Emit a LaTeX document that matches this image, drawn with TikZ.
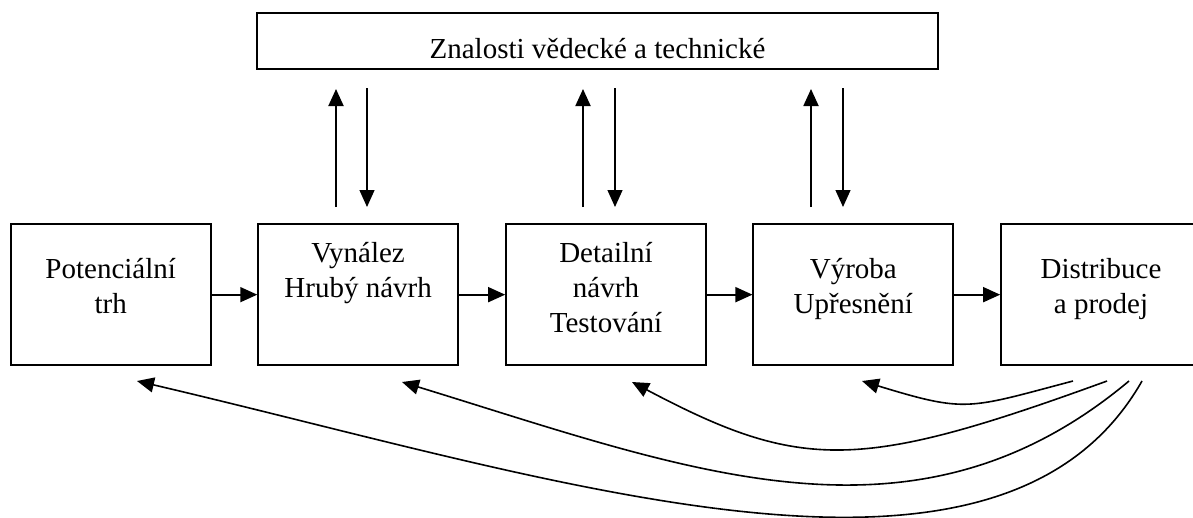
\documentclass[tikz,border=0pt]{standalone}
\usepackage{fontspec}
\setmainfont{Liberation Serif}
\usetikzlibrary{arrows.meta}

\newcommand{\lines}[1]{\begin{tabular}[t]{@{}c@{}}#1\end{tabular}}

\begin{document}
\begin{tikzpicture}[x=1pt, y=-1pt,
  every node/.style={font=\fontsize{29}{35}\selectfont},
  stage/.style={draw, line width=1.7pt, inner sep=0pt, minimum width=200pt},
  textlow/.style={text height=53.7pt, text depth=87pt},
  texthigh/.style={text height=37.7pt, text depth=103pt},
  tip/.style={-{Triangle[length=17pt, width=15pt]}},
  flow/.style={tip, line width=1.7pt},
  upflow/.style={tip, line width=1.9pt},
  downflow/.style={tip, line width=1.3pt},
  back/.style={tip, line width=1.6pt}
]
\useasboundingbox (0,0) rectangle (1193,517);

% knowledge base on top
\node[stage, minimum width=680.4pt, text height=44.7pt, text depth=11pt]
  (kn) at (597.5,41.15) {Znalosti vědecké a technické};

% chain of stages
\node[stage, textlow]  (b1) at (110.7,294.65) {\lines{Potenciální\\trh}};
\node[stage, texthigh] (b2) at (358.1,294.65) {\lines{Vynález\\Hrubý návrh}};
\node[stage, texthigh] (b3) at (606,294.65)   {\lines{Detailní\\návrh\\Testování}};
\node[stage, textlow]  (b4) at (853.3,294.65) {\lines{Výroba\\Upřesnění}};
\node[stage, textlow]  (b5) at (1101,294.65)  {\lines{Distribuce\\a prodej}};

\draw[flow] (b1) -- (b2);
\draw[flow] (b2) -- (b3);
\draw[flow] (b3) -- (b4);
\draw[flow] (b4) -- (b5);

% exchange with the knowledge base
\coordinate (u1b) at (336,207);   \coordinate (u1t) at (336,89);
\coordinate (d1t) at (367,88);    \coordinate (d1b) at (367,207);
\coordinate (u2b) at (583,207);   \coordinate (u2t) at (583,89);
\coordinate (d2t) at (615,88);    \coordinate (d2b) at (615,207);
\coordinate (u3b) at (811,207);   \coordinate (u3t) at (811,89);
\coordinate (d3t) at (843,88);    \coordinate (d3b) at (843,207);

\draw[upflow]   (u1b) -- (u1t);
\draw[downflow] (d1t) -- (d1b);
\draw[upflow]   (u2b) -- (u2t);
\draw[downflow] (d2t) -- (d2b);
\draw[upflow]   (u3b) -- (u3t);
\draw[downflow] (d3t) -- (d3b);

% feedback from distribution to the earlier stages
\coordinate (fa0) at (1073,381);  \coordinate (fa1) at (862,381);
\coordinate (fb0) at (1107,381);  \coordinate (fb1) at (632,382);
\coordinate (fc0) at (1129,381);  \coordinate (fc1) at (402,382);
\coordinate (fd0) at (1142,381);  \coordinate (fd1) at (137,381);

\draw[back] (fa0) .. controls (967,409) and (967,413) .. (fa1);
\draw[back] (fb0) .. controls (860,471) and (802,472) .. (fb1);
\draw[back] (fc0) .. controls (914,561) and (689,470) .. (fc1);
\draw[back] (fd0) .. controls (1000,630) and (560,480) .. (fd1);
\end{tikzpicture}
\end{document}
